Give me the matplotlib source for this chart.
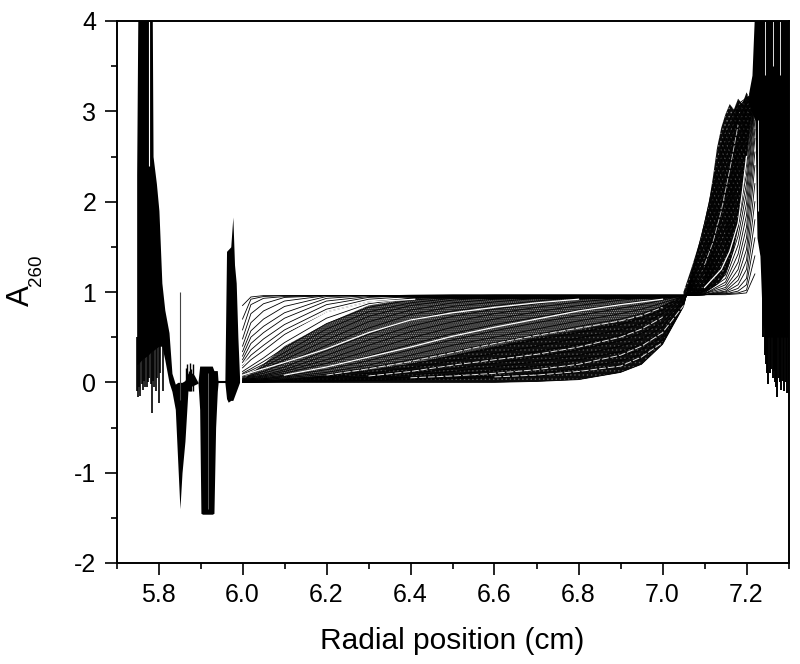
import matplotlib
matplotlib.use("Agg")
import matplotlib.pyplot as plt
from matplotlib.ticker import MultipleLocator

R = [6.00, 6.02, 6.05, 6.10, 6.20, 6.30, 6.40, 6.50, 6.60, 6.70, 6.80, 6.90, 6.95, 7.00, 7.05, 7.10, 7.15, 7.18, 7.20, 7.22]

# scans, early to late
scan_01 = [.85, .945, .96, .96, .96, .96, .96, .96, .96, .96, .96, .96, .96, .96, .96, .97, .97, .98, .99, 1.20]
scan_02 = [.70, .92, .95, .96, .96, .96, .96, .96, .96, .96, .96, .96, .96, .96, .96, .97, .98, .99, 1.02, 1.40]
scan_03 = [.58, .86, .93, .95, .96, .96, .96, .96, .96, .96, .96, .96, .96, .96, .96, .97, .98, 1.01, 1.08, 1.60]
scan_04 = [.48, .76, .87, .94, .96, .96, .96, .96, .96, .96, .96, .96, .96, .96, .96, .97, .99, 1.04, 1.15, 1.80]
scan_05 = [.40, .66, .79, .90, .96, .96, .96, .96, .96, .96, .96, .96, .96, .96, .96, .97, 1.00, 1.08, 1.25, 2.00]
scan_06 = [.34, .57, .70, .84, .95, .96, .96, .96, .96, .96, .96, .96, .96, .96, .96, .97, 1.01, 1.13, 1.35, 2.20]
scan_07 = [.29, .50, .62, .77, .93, .96, .96, .96, .96, .96, .96, .96, .96, .96, .96, .97, 1.03, 1.18, 1.47, 2.40]
scan_08 = [.25, .43, .55, .71, .90, .95, .96, .96, .96, .96, .96, .96, .96, .96, .96, .98, 1.05, 1.25, 1.60, 2.55]
scan_09 = [.22, .36, .48, .64, .86, .94, .96, .96, .96, .96, .96, .96, .96, .96, .96, .98, 1.08, 1.33, 1.72, 2.70]
scan_10 = [.19, .30, .41, .58, .81, .92, .95, .96, .96, .96, .96, .96, .96, .96, .96, .98, 1.11, 1.42, 1.85, 2.80]
scan_11 = [.16, .25, .35, .53, .78, .89, .93, .96, .96, .96, .96, .96, .96, .96, .96, .99, 1.15, 1.52, 1.98, 2.90]
scan_12 = [.12, .18, .27, .44, .71, .87, .93, .95, .96, .96, .96, .96, .96, .96, .96, .99, 1.19, 1.62, 2.10, 3.00]
scan_13 = [.10, .15, .23, .38, .65, .83, .91, .94, .96, .96, .96, .96, .96, .96, .96, 1.00, 1.24, 1.72, 2.20, 3.05]
scan_14 = [.09, .13, .20, .33, .59, .78, .88, .93, .95, .96, .96, .96, .96, .96, .96, 1.00, 1.29, 1.82, 2.30, 3.10]
scan_15 = [.08, .11, .17, .29, .53, .73, .85, .91, .94, .95, .96, .96, .96, .96, .96, 1.01, 1.34, 1.92, 2.40, 3.10]
scan_16 = [.07, .10, .15, .25, .47, .67, .80, .88, .92, .94, .96, .96, .96, .96, .96, 1.01, 1.40, 2.00, 2.50, 3.10]
scan_17 = [.06, .08, .12, .21, .41, .60, .75, .84, .89, .93, .95, .96, .96, .96, .96, 1.02, 1.46, 2.10, 2.58, 3.10]
scan_18 = [.05, .07, .10, .17, .35, .53, .69, .79, .85, .90, .94, .96, .96, .96, .96, 1.03, 1.52, 2.20, 2.65, 3.10]
scan_19 = [.04, .06, .08, .14, .30, .47, .62, .73, .81, .87, .92, .95, .96, .96, .96, 1.04, 1.58, 2.28, 2.72, 3.10]
scan_20 = [.04, .05, .07, .12, .25, .41, .56, .67, .76, .83, .89, .93, .95, .96, .96, 1.05, 1.65, 2.36, 2.78, 3.10]
scan_21 = [.03, .04, .06, .10, .21, .35, .49, .61, .70, .78, .85, .91, .93, .95, .96, 1.07, 1.72, 2.44, 2.83, 3.10]
scan_22 = [.03, .04, .05, .08, .17, .29, .42, .54, .64, .72, .80, .87, .90, .93, .96, 1.09, 1.79, 2.50, 2.88, 3.10]
scan_23 = [.02, .03, .04, .07, .14, .24, .36, .47, .57, .66, .74, .82, .86, .91, .96, 1.11, 1.86, 2.56, 2.92, 3.12]
scan_24 = [.02, .03, .04, .06, .11, .19, .30, .41, .50, .59, .68, .76, .81, .88, .95, 1.14, 1.94, 2.62, 2.96, 3.12]
scan_25 = [.02, .02, .03, .05, .09, .16, .25, .34, .44, .53, .62, .70, .76, .84, .94, 1.17, 2.02, 2.68, 3.00, 3.12]
scan_26 = [.01, .02, .03, .04, .07, .13, .20, .29, .38, .47, .55, .64, .71, .80, .93, 1.21, 2.10, 2.74, 3.02, 3.12]
scan_27 = [.01, .02, .02, .03, .06, .10, .16, .24, .32, .40, .49, .58, .65, .76, .92, 1.25, 2.18, 2.80, 3.04, 3.13]
scan_28 = [.01, .01, .02, .03, .05, .08, .13, .19, .26, .34, .42, .52, .60, .71, .91, 1.30, 2.26, 2.85, 3.06, 3.14]
scan_29 = [.01, .01, .02, .02, .04, .06, .10, .15, .21, .28, .36, .46, .54, .66, .90, 1.35, 2.34, 2.90, 3.08, 3.14]
scan_30 = [.01, .01, .01, .02, .03, .05, .08, .12, .17, .23, .30, .40, .48, .61, .89, 1.41, 2.42, 2.94, 3.09, 3.15]
scan_31 = [.00, .01, .01, .02, .02, .04, .06, .09, .13, .18, .25, .34, .42, .56, .88, 1.47, 2.50, 2.98, 3.10, 3.15]
scan_32 = [.00, .00, .01, .01, .02, .03, .05, .07, .10, .14, .20, .29, .36, .51, .87, 1.54, 2.58, 3.00, 3.12, 3.16]
scan_33 = [.00, .00, .01, .01, .02, .02, .04, .05, .07, .10, .15, .24, .31, .47, .86, 1.61, 2.66, 3.03, 3.13, 3.17]
scan_34 = [.00, .00, .00, .01, .01, .02, .03, .04, .05, .07, .11, .19, .26, .44, .85, 1.68, 2.74, 3.05, 3.14, 3.18]
scan_35 = [.00, .00, .00, .00, .00, .00, .00, .00, .00, .01, .03, .11, .20, .42, .84, 1.76, 2.82, 3.08, 3.15, 3.20]
SCANS = [scan_01, scan_02, scan_03, scan_04, scan_05, scan_06, scan_07, scan_08, scan_09, scan_10,
         scan_11, scan_12, scan_13, scan_14, scan_15, scan_16, scan_17, scan_18, scan_19, scan_20,
         scan_21, scan_22, scan_23, scan_24, scan_25, scan_26, scan_27, scan_28, scan_29, scan_30,
         scan_31, scan_32, scan_33, scan_34, scan_35]

# dark mass under the fan of scans
dense_top = [.02, .10, .20, .40, .65, .85, .93, .96, .97, .97, .97, .97, .97, .97, .97]
dark_top = [.00, .01, .02, .03, .08, .13, .20, .30, .40, .50, .58, .68, .75, .85, .97]
cap_r = [6.30, 6.40, 6.50, 6.60, 6.80, 7.00, 7.05]
cap_lo = [.955, .94, .93, .925, .925, .93, .95]
cap_hi = [.965, .975, .98, .98, .98, .98, .98]

fan_r = [7.05, 7.07, 7.09, 7.11, 7.12, 7.13, 7.14, 7.15, 7.16, 7.17, 7.18, 7.19, 7.20, 7.21, 7.22]
fan_hi = [1.00, 1.28, 1.58, 1.98, 2.27, 2.60, 2.82, 2.97, 3.08, 3.02, 3.14, 3.08, 3.21, 3.12, 3.25]
fan_lo = [.97, .98, .99, 1.02, 1.05, 1.08, 1.13, 1.20, 1.32, 1.48, 1.70, 2.00, 2.45, 2.90, 3.10]

# pale stripes left in the mass
stripe_a_r = [6.00, 6.05, 6.10, 6.20, 6.30, 6.41]
stripe_a = [.20, .38, .55, .78, .89, .92]
stripe_b_r = [6.00, 6.10, 6.20, 6.30, 6.40, 6.50, 6.60, 6.70, 6.80]
stripe_b = [.08, .22, .37, .55, .69, .77, .83, .88, .92]
stripe_c_r = [6.10, 6.20, 6.30, 6.40, 6.50, 6.60, 6.70, 6.80, 6.90, 6.95, 7.00]
stripe_c = [.08, .17, .28, .39, .51, .61, .70, .79, .86, .89, .92]
stripe_d_r = [6.20, 6.30, 6.40, 6.50, 6.60, 6.70, 6.80, 6.90, 6.95, 7.00]
stripe_d = [.08, .15, .23, .33, .43, .52, .60, .68, .74, .83]
stripe_e_r = [6.30, 6.40, 6.50, 6.60, 6.70, 6.80, 6.90, 6.95, 7.00]
stripe_e = [.07, .12, .19, .25, .31, .39, .50, .59, .72]
stripe_f_r = [6.40, 6.50, 6.60, 6.70, 6.80, 6.90, 6.95, 7.00, 7.05]
stripe_f = [.05, .07, .10, .14, .20, .30, .40, .55, .85]
stripe_g_r = [6.60, 6.70, 6.80, 6.90, 6.95, 7.00]
stripe_g = [.06, .08, .12, .18, .28, .44]
stripe_fan_r = [7.10, 7.14, 7.16, 7.18, 7.19, 7.20]
stripe_fan = [1.05, 1.25, 1.45, 1.76, 2.10, 2.50]
stripe_fan2_r = [7.10, 7.12, 7.14, 7.16, 7.18]
stripe_fan2 = [1.30, 1.55, 1.90, 2.35, 2.85]

# noisy meniscus and cell-base regions
left_r = [5.748, 5.751, 5.76, 5.775, 5.785, 5.787, 5.795, 5.801, 5.808, 5.815, 5.825, 5.832, 5.84, 5.846, 5.851, 5.856, 5.863, 5.87, 5.875, 5.885, 5.894]
left_hi = [2.3, 4.2, 4.2, 4.2, 4.2, 2.5, 2.2, 1.9, 1.1, .8, .55, .1, -.02, 0, 0, 0, .02, .1, .12, .08, 0]
left_lo = [.2, .2, .25, .3, .35, .35, .38, .4, .4, .25, 0, -.1, -.3, -.9, -1.4, -1.0, -.65, -.1, -.05, -.03, -.01]
left_spike_r = [5.749, 5.752, 5.754, 5.757, 5.76, 5.763, 5.766, 5.769, 5.772, 5.775, 5.778, 5.781, 5.785, 5.788, 5.79, 5.794, 5.797, 5.801, 5.804, 5.81]
left_spike_lo = [-.1, -.16, -.05, -.15, -.02, -.08, .02, -.05, -.05, .0, .05, -.02, -.34, .02, -.05, -.1, .05, -.23, .1, -.1]
left_bump_r = [5.866, 5.869, 5.872, 5.875, 5.878, 5.881]
left_bump_hi = [.16, .2, .12, .21, .15, .2]
left_pale_r = [5.777]
left_pale_lo = [2.4]
left_pale_hi = [4.0]

box1_r = [5.894, 5.898, 5.901, 5.905, 5.928, 5.932, 5.936, 5.94, 5.942]
box1_hi = [0, .18, .18, .18, .18, .13, .13, .13, 0]
box1_lo = [0, -.3, -1.45, -1.46, -1.46, -1.45, -.5, -.1, 0]
base_r = [5.942, 5.958]
base_a = [0, 0]
box2_r = [5.958, 5.962, 5.966, 5.972, 5.977, 5.981, 5.985, 5.989, 5.993]
box2_hi = [0, 1.45, 1.47, 1.5, 1.83, 1.3, 1.1, .5, .05]
box2_lo = [0, -.18, -.22, -.2, -.2, -.15, -.1, -.05, 0]

right_r = [7.205, 7.213, 7.22, 7.225, 7.232, 7.238, 7.249, 7.26, 7.273, 7.285, 7.297, 7.30]
right_hi = [3.2, 3.4, 4.2, 4.2, 4.2, 4.2, 4.2, 4.2, 4.2, 4.2, 4.2, 4.2]
right_lo = [3.1, 3.0, 2.9, 1.6, 1.4, .65, .5, .5, .5, .5, .5, .5]
right_spike_r = [7.240, 7.243, 7.246, 7.249, 7.252, 7.255, 7.258, 7.262, 7.265, 7.268, 7.271, 7.273, 7.277, 7.280, 7.283, 7.287, 7.29, 7.293, 7.297, 7.30]
right_spike_lo = [.5, .3, .2, .1, -.02, .1, .15, .05, .12, .0, -.05, -.16, .05, .0, -.08, .02, -.1, .0, -.12, -.2]
right_pale_r = [7.227, 7.245, 7.262, 7.28]
right_pale_lo = [1.9, 3.4, 3.5, 3.4]
right_pale_hi = [2.9, 4.0, 4.0, 4.0]

x_ticks = [5.8, 6.0, 6.2, 6.4, 6.6, 6.8, 7.0, 7.2]
y_ticks = [-2, -1, 0, 1, 2, 3, 4]

plt.rcParams["font.family"] = ["Liberation Sans", "DejaVu Sans"]
plt.rcParams["hatch.linewidth"] = 0.5

fig = plt.figure(figsize=(8, 6.64), dpi=100)
ax = fig.add_axes([116.5 / 800, 1 - 563 / 664, 672 / 800, 542 / 664])

INK = "black"
ax.fill_between(R[:15], scan_35[:15], dense_top, facecolor="#2a2a2a", edgecolor="#9a9a9a", hatch="........", lw=0)
ax.fill_between(R[:15], scan_35[:15], dark_top, facecolor="#0c0c0c", edgecolor="#555555", hatch="....", lw=0)
ax.fill_between(fan_r, fan_lo, fan_hi, facecolor="#0a0a0a", edgecolor="#777777", hatch="....", lw=0)
for s in SCANS:
    ax.plot(R, s, color=INK, lw=0.6)
ax.fill_between(cap_r, cap_lo, cap_hi, color=INK, lw=0)

for xs, ys in [(stripe_a_r, stripe_a), (stripe_b_r, stripe_b), (stripe_c_r, stripe_c), (stripe_fan_r, stripe_fan)]:
    ax.plot(xs, ys, color="white", lw=0.9)
ax.plot(stripe_fan2_r, stripe_fan2, color="#cccccc", lw=0.6, ls=(0, (8, 2)))
for xs, ys in [(stripe_d_r, stripe_d), (stripe_e_r, stripe_e), (stripe_f_r, stripe_f), (stripe_g_r, stripe_g)]:
    ax.plot(xs, ys, color="#e4e4e4", lw=0.7, ls=(0, (7, 2)))

ax.fill_between(left_r, left_lo, left_hi, color=INK, lw=0)
ax.vlines(left_spike_r, left_spike_lo, [0.5] * len(left_spike_r), color=INK, lw=1.2)
ax.vlines([5.851], [-0.2], [1.0], color="#444444", lw=0.8)
ax.vlines(left_bump_r, [-0.1] * len(left_bump_r), left_bump_hi, color=INK, lw=1.0)
ax.vlines(left_pale_r, left_pale_lo, left_pale_hi, color="white", lw=0.8)
ax.fill_between(box1_r, box1_lo, box1_hi, color=INK, lw=0)
ax.vlines([5.918], [-1.4], [0.1], color="#888888", lw=0.5)
ax.plot(base_r, base_a, color=INK, lw=1.5)
ax.fill_between(box2_r, box2_lo, box2_hi, color=INK, lw=0)
ax.fill_between(right_r, right_lo, right_hi, color=INK, lw=0)
ax.vlines(right_spike_r, right_spike_lo, [1.0] * len(right_spike_r), color=INK, lw=1.4)
ax.vlines(right_pale_r, right_pale_lo, right_pale_hi, color="white", lw=0.6)

ax.set_xlim(5.7, 7.3)
ax.set_ylim(-2, 4)
ax.set_xticks(x_ticks)
ax.set_xticklabels(["%.1f" % v for v in x_ticks])
ax.set_yticks(y_ticks)
ax.set_yticklabels([str(v) for v in y_ticks])
ax.xaxis.set_minor_locator(MultipleLocator(0.1))
ax.yaxis.set_minor_locator(MultipleLocator(0.5))
ax.tick_params(which="major", length=8.5, width=1.2, labelsize=18, direction="out", pad=6)
ax.tick_params(which="minor", length=4.5, width=1.2, direction="out")
for sp in ax.spines.values():
    sp.set_linewidth(1.4)
    sp.set_zorder(5)

ax.set_xlabel("Radial position (cm)", fontsize=21.5, labelpad=14)
# A and its subscript set apart, the mathtext subscript comes out too big
fig.text(21 / 800, 1 - 296 / 664, "A", rotation=90, fontsize=22.5, ha="center", va="center")
fig.text(37 / 800, 1 - 270 / 664, "260", rotation=90, fontsize=13.5, ha="center", va="center")

fig.savefig("out.png", dpi=100)
